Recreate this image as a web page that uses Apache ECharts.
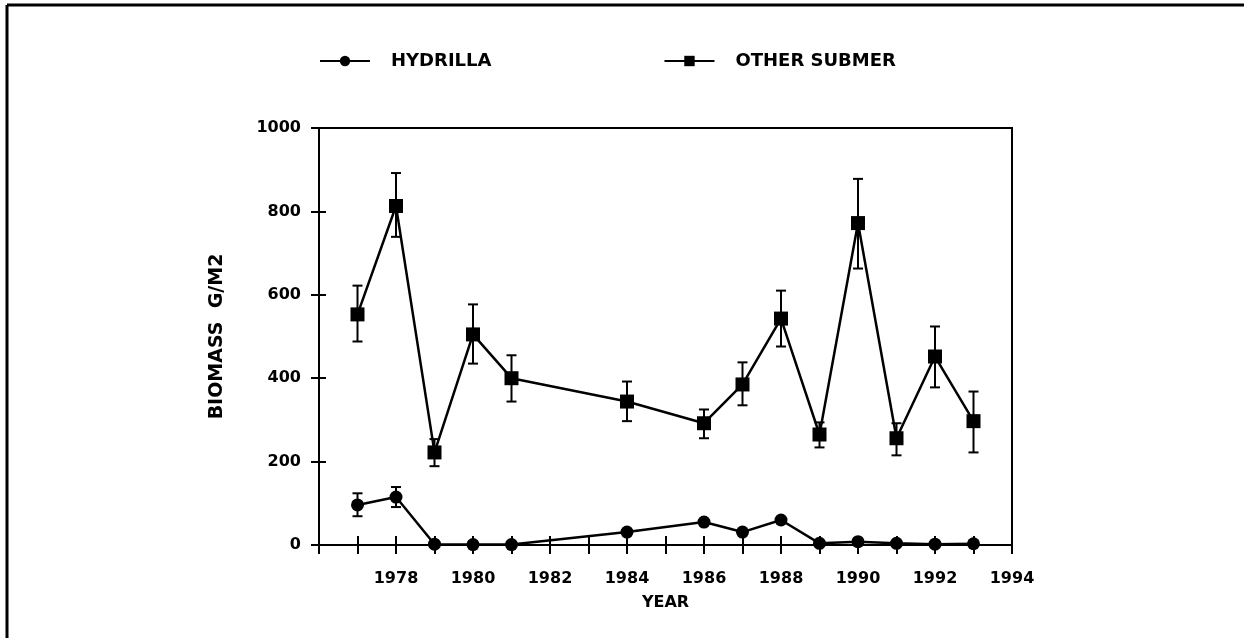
<!DOCTYPE html>
<html>
<head>
<meta charset="utf-8">
<script src="https://cdn.jsdelivr.net/npm/echarts@6/dist/echarts.min.js"></script>
<style>
  html, body { margin: 0; padding: 0; background: #fff; }
  #main { width: 1244px; height: 638px; }
</style>
</head>
<body>
<div id="main"></div>
<script>
// data
var years = [1977, 1978, 1979, 1980, 1981, 1984, 1986, 1987, 1988, 1989, 1990, 1991, 1992, 1993];
var hydrilla = [96, 115, 2, 1, 1, 31, 55, 31, 60, 4, 8, 4, 2, 3];
var hydrillaLow = [69, 91, null, null, null, null, null, null, null, null, null, null, null, null];
var hydrillaHigh = [124, 139, null, null, null, null, null, null, null, null, null, null, null, null];
var other = [553, 813, 222, 505, 400, 344, 292, 385, 543, 265, 772, 256, 452, 297];
var otherLow = [488, 739, 189, 435, 344, 297, 256, 335, 476, 234, 663, 215, 378, 222];
var otherHigh = [622, 892, 254, 577, 455, 392, 325, 438, 610, 294, 878, 292, 524, 368];
var xTickLabels = ['1978', '1980', '1982', '1984', '1986', '1988', '1990', '1992', '1994'];

var font = 'DejaVu Sans, sans-serif';

function pairs(v) {
    var out = [];
    for (var i = 0; i < years.length; i++) out.push([years[i], v[i]]);
    return out;
}
function errData(lo, hi) {
    var out = [];
    for (var i = 0; i < years.length; i++) {
        if (lo[i] != null) out.push([years[i], lo[i], hi[i]]);
    }
    return out;
}
// error bar: vertical line with caps
function errRender(params, api) {
    var x = api.value(0);
    var p1 = api.coord([x, api.value(1)]);
    var p2 = api.coord([x, api.value(2)]);
    var w = 5;
    var st = { stroke: '#000', lineWidth: 2 };
    return {
        type: 'group',
        children: [
            { type: 'line', shape: { x1: p1[0], y1: p1[1], x2: p2[0], y2: p2[1] }, style: st },
            { type: 'line', shape: { x1: p1[0] - w, y1: p1[1], x2: p1[0] + w, y2: p1[1] }, style: st },
            { type: 'line', shape: { x1: p2[0] - w, y1: p2[1], x2: p2[0] + w, y2: p2[1] }, style: st }
        ]
    };
}

var chart = echarts.init(document.getElementById('main'));
var labelStyle = { color: '#000', fontFamily: font, fontWeight: 'bold', fontSize: 16 };

var option = {
    backgroundColor: '#fff',
    animation: false,
    graphic: [
        { type: 'line', shape: { x1: 7, y1: 5, x2: 1244, y2: 5 }, style: { stroke: '#000', lineWidth: 3 } },
        { type: 'line', shape: { x1: 7, y1: 5, x2: 7, y2: 638 }, style: { stroke: '#000', lineWidth: 3 } }
    ],
    legend: {
        left: 314,
        top: 47,
        itemWidth: 50,
        itemHeight: 13,
        itemGap: 172,
        data: ['HYDRILLA', 'OTHER SUBMER'],
        textStyle: { color: '#000', fontFamily: font, fontWeight: 'bold', fontSize: 18, padding: [0, 0, 0, 16] }
    },
    grid: {
        left: 319, right: 232, top: 128, bottom: 93,
        show: true, borderColor: '#000', borderWidth: 2, backgroundColor: 'transparent'
    },
    xAxis: [{
        type: 'value', min: 1976, max: 1994, interval: 1,
        name: 'YEAR', nameLocation: 'middle', nameGap: 50,
        nameTextStyle: labelStyle,
        axisLine: { lineStyle: { color: '#000', width: 2 } },
        axisTick: { length: 9, lineStyle: { color: '#000', width: 2 } },
        axisLabel: Object.assign({
            margin: 26,
            formatter: function (v) { return xTickLabels.indexOf(String(v)) >= 0 ? String(v) : ''; }
        }, labelStyle),
        splitLine: { show: false }
    }, {
        type: 'value', min: 1976, max: 1994, interval: 1, position: 'bottom',
        axisLine: { show: false },
        axisTick: { inside: true, length: 9, lineStyle: { color: '#000', width: 2 } },
        axisLabel: { show: false },
        splitLine: { show: false }
    }],
    yAxis: [{
        type: 'value', min: 0, max: 1000, interval: 200,
        name: 'BIOMASS  G/M2', nameLocation: 'middle', nameGap: 92, nameRotate: 90,
        nameTextStyle: Object.assign({}, labelStyle, { fontSize: 19 }),
        axisLine: { show: true, lineStyle: { color: '#000', width: 2 } },
        axisTick: { show: true, length: 8, lineStyle: { color: '#000', width: 2 } },
        axisLabel: Object.assign({ margin: 18, formatter: function (v) { return String(v); } }, labelStyle),
        splitLine: { show: false }
    }, {
        type: 'value', min: 0, max: 1000, interval: 200, position: 'left',
        axisLine: { show: false },
        axisTick: { show: true, inside: true, length: 7, lineStyle: { color: '#000', width: 2 } },
        axisLabel: { show: false },
        splitLine: { show: false }
    }],
    series: [{
        name: 'HYDRILLA', type: 'line', data: pairs(hydrilla),
        symbol: 'circle', symbolSize: 13,
        lineStyle: { color: '#000', width: 2.5 },
        itemStyle: { color: '#000' }, z: 5
    }, {
        name: 'OTHER SUBMER', type: 'line', data: pairs(other),
        symbol: 'rect', symbolSize: 14,
        lineStyle: { color: '#000', width: 2.5 },
        itemStyle: { color: '#000' }, z: 5
    }, {
        type: 'custom', renderItem: errRender, data: errData(hydrillaLow, hydrillaHigh), z: 3
    }, {
        type: 'custom', renderItem: errRender, data: errData(otherLow, otherHigh), z: 3
    }]
};
chart.setOption(option);
</script>
</body>
</html>
